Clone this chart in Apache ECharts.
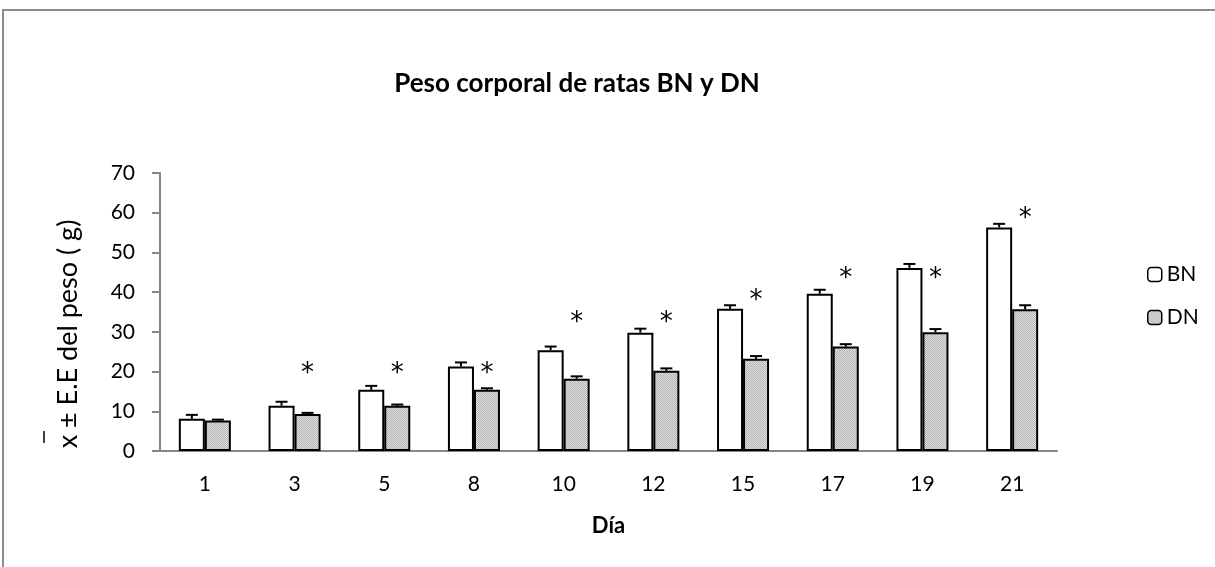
<!DOCTYPE html>
<html>
<head>
<meta charset="utf-8">
<script src="https://cdn.jsdelivr.net/npm/echarts@6/dist/echarts.min.js"></script>
<style>
html, body { margin: 0; padding: 0; background: #fff; }
#chart { width: 1215px; height: 567px; }
</style>
</head>
<body>
<div id="chart"></div>
<script>
var days = ['1', '3', '5', '8', '10', '12', '15', '17', '19', '21'];
var bnMean = [8.1, 11.4, 15.4, 21.3, 25.4, 29.8, 35.8, 39.6, 46.1, 56.3];
var bnErr = [1.0, 1.0, 1.0, 1.0, 0.9, 1.0, 0.9, 1.0, 1.0, 0.9];
var dnMean = [7.7, 9.3, 11.4, 15.4, 18.2, 20.2, 23.2, 26.3, 29.9, 35.7];
var dnErr = [0.2, 0.3, 0.3, 0.4, 0.6, 0.6, 0.7, 0.6, 0.8, 1.0];
var starPos = [null, 21, 21, 21, 34, 34, 39.4, 44.9, 44.9, 60];
var yTicks = [0, 70, 10];

var chart = echarts.init(document.getElementById('chart'));
var font = 'Lato, "Open Sans", sans-serif';
var BAR_FRAC = 0.29;

// punteado gris de las barras DN
var pc = document.createElement('canvas');
pc.width = 4; pc.height = 4;
var ctx = pc.getContext('2d');
for (var i = 0; i < 4; i++) {
	for (var j = 0; j < 4; j++) {
		ctx.fillStyle = ((i + j) % 2 === 0) ? '#b4b4b4' : '#dedede';
		ctx.fillRect(i, j, 1, 1);
	}
}
var dots = { image: pc, repeat: 'repeat' };

function errData(mean, err) {
	return mean.map(function(m, i) { return [i, m, err[i]]; });
}

function errRender(side) {
	return function(params, api) {
		var i = api.value(0);
		var band = api.size([1, 0])[0];
		var w = band * BAR_FRAC;
		var p0 = api.coord([i, api.value(1)]);
		var p1 = api.coord([i, api.value(1) + api.value(2)]);
		var x = p0[0] + side * w / 2;
		var st = { stroke: '#000', lineWidth: 2 };
		return {
			type: 'group',
			children: [
				{ type: 'line', shape: { x1: x, y1: p0[1], x2: x, y2: p1[1] }, style: st },
				{ type: 'line', shape: { x1: x - 6, y1: p1[1], x2: x + 6, y2: p1[1] }, style: st }
			]
		};
	};
}

var starData = [];
starPos.forEach(function(v, i) { if (v != null) starData.push([i, v]); });

chart.setOption({
	backgroundColor: '#fff',
	animation: false,
	title: {
		text: 'Peso corporal de ratas BN y DN',
		left: 572,
		textAlign: 'center',
		top: 66,
		textStyle: { fontFamily: font, fontSize: 26, fontWeight: 'bold', color: '#000' }
	},
	legend: {
		orient: 'vertical',
		left: 1142,
		top: 259,
		itemWidth: 14,
		itemHeight: 14,
		itemGap: 22,
		data: ['BN', 'DN'],
		itemStyle: { borderWidth: 1.5 },
		textStyle: { fontFamily: font, fontSize: 21, color: '#000' }
	},
	grid: { left: 160, right: 158, top: 173, bottom: 116 },
	xAxis: {
		type: 'category',
		data: days,
		name: 'Día',
		nameLocation: 'middle',
		nameGap: 64,
		nameTextStyle: { fontFamily: font, fontSize: 22, fontWeight: 'bold', color: '#000' },
		axisLine: { lineStyle: { color: '#868686', width: 2 } },
		axisTick: { show: false },
		axisLabel: { fontFamily: font, fontSize: 21, color: '#000', margin: 23 }
	},
	yAxis: {
		type: 'value',
		min: yTicks[0],
		max: yTicks[1],
		interval: yTicks[2],
		axisLine: { show: true, lineStyle: { color: '#868686', width: 2 } },
		axisTick: { show: true, length: 8, lineStyle: { color: '#868686', width: 2 } },
		splitLine: { show: false },
		axisLabel: { fontFamily: font, fontSize: 21, color: '#000', margin: 25 }
	},
	graphic: [
		{
			type: 'rect',
			shape: { x: 3, y: 10, width: 1400, height: 800 },
			style: { fill: 'none', stroke: '#8c8c8c', lineWidth: 2 },
			silent: true
		},
		{
			type: 'text',
			x: 68,
			y: 334,
			rotation: Math.PI / 2,
			style: {
				text: 'x ± E.E del peso ( g)',
				font: '27px ' + font,
				fill: '#000',
				align: 'center',
				verticalAlign: 'middle'
			}
		},
		{
			type: 'line',
			shape: { x1: 44, y1: 431, x2: 44, y2: 443 },
			style: { stroke: '#000', lineWidth: 1.5 }
		}
	],
	series: [
		{
			name: 'BN',
			type: 'bar',
			data: bnMean,
			barWidth: (BAR_FRAC * 100) + '%',
			barGap: '0%',
			itemStyle: { color: '#fff', borderColor: '#000', borderWidth: 2 }
		},
		{
			name: 'DN',
			type: 'bar',
			data: dnMean,
			barWidth: (BAR_FRAC * 100) + '%',
			barGap: '0%',
			itemStyle: { color: dots, borderColor: '#000', borderWidth: 2 }
		},
		{
			type: 'custom',
			data: errData(bnMean, bnErr),
			renderItem: errRender(-1),
			encode: { x: 0, y: 1 },
			z: 5
		},
		{
			type: 'custom',
			data: errData(dnMean, dnErr),
			renderItem: errRender(1),
			encode: { x: 0, y: 1 },
			z: 5
		},
		{
			type: 'custom',
			data: starData,
			encode: { x: 0, y: 1 },
			renderItem: function(params, api) {
				var band = api.size([1, 0])[0];
				var p = api.coord([api.value(0), api.value(1)]);
				return {
					type: 'text',
					style: {
						x: p[0] + band * BAR_FRAC / 2,
						y: p[1] + 7,
						text: '*',
						font: '26px "DejaVu Sans", sans-serif',
						fill: '#000',
						align: 'center',
						verticalAlign: 'middle'
					}
				};
			},
			z: 5
		}
	]
});
</script>
</body>
</html>
